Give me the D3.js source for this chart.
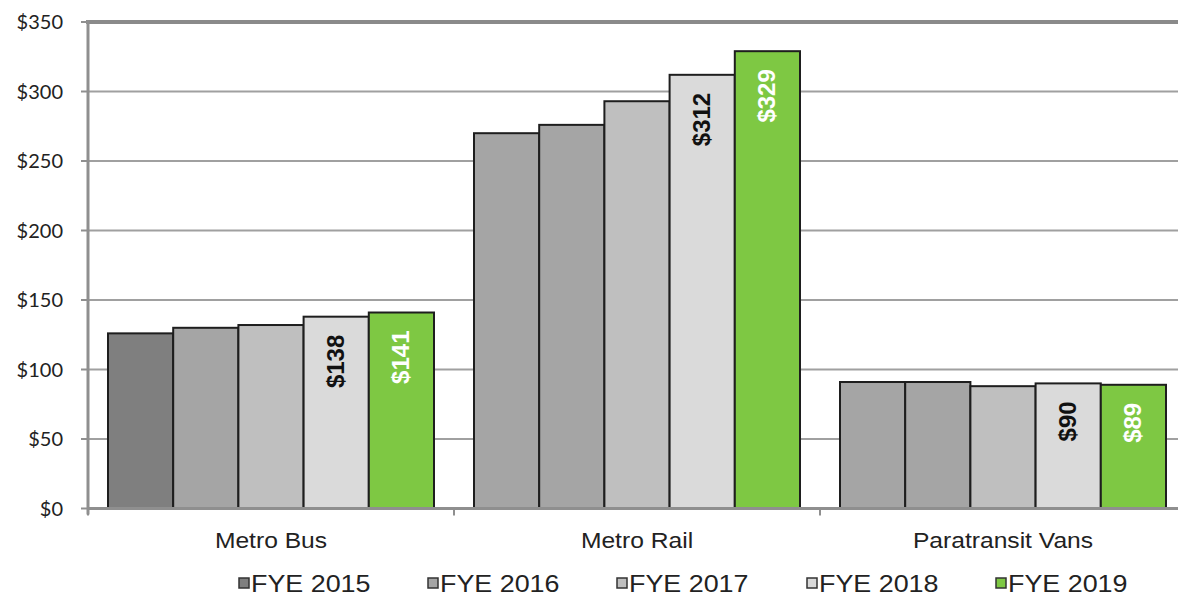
<!DOCTYPE html>
<html>
<head>
<meta charset="utf-8">
<script src="https://cdn.jsdelivr.net/npm/d3@7"></script>
<style>
  html, body { margin: 0; padding: 0; background: #fff; }
  svg { display: block; }
</style>
</head>
<body>
<svg id="chart" width="1178" height="599"></svg>
<script>
// Operating cost by mode, fiscal years 2015–2019 (millions)
const categories = ["Metro Bus", "Metro Rail", "Paratransit Vans"];
const seriesNames = ["FYE 2015", "FYE 2016", "FYE 2017", "FYE 2018", "FYE 2019"];
const fye2015 = [126, 270, 91];
const fye2016 = [130, 276, 91];
const fye2017 = [132, 293, 88];
const fye2018 = [138, 312, 90];
const fye2019 = [141, 329, 89];
const yTicks = [0, 50, 100, 150, 200, 250, 300, 350];
// Series shown with a printed value label
const labelledSeries = ["FYE 2018", "FYE 2019"];

const seriesValues = [fye2015, fye2016, fye2017, fye2018, fye2019];
const seriesFill = ["#7f7f7f", "#a5a5a5", "#bfbfbf", "#dadada", "#7ec843"];
const seriesLabelColor = { "FYE 2018": "#111", "FYE 2019": "#ffffff" };
// the 2015 bars for rail and paratransit are drawn in the lighter grey
const fillOverride = { "Metro Rail|FYE 2015": "#a5a5a5", "Paratransit Vans|FYE 2015": "#a5a5a5" };

const svg = d3.select("#chart");
const plotLeft = 88, plotTop = 22, plotBottom = 508.5, bandW = 366;

const x0 = d3.scaleBand().domain(categories)
  .range([plotLeft, plotLeft + bandW * categories.length]).paddingInner(0).paddingOuter(0);
const x1 = d3.scaleBand().domain(seriesNames).range([20, 346]).padding(0);
const y = d3.scaleLinear().domain([0, 350]).range([plotBottom, plotTop]);

const sx = 1.12; // horizontal text stretch

// gridlines
svg.append("g").selectAll("line").data(yTicks.filter(d => d > 0 && d < 350)).join("line")
  .attr("x1", plotLeft).attr("x2", 1178)
  .attr("y1", d => y(d)).attr("y2", d => y(d))
  .attr("stroke", "#a0a0a0").attr("stroke-width", 2);

// top border of plot area
svg.append("line").attr("x1", plotLeft - 2).attr("x2", 1178)
  .attr("y1", y(350)).attr("y2", y(350))
  .attr("stroke", "#8a8a8a").attr("stroke-width", 4);

// bars
const rows = [];
categories.forEach((c, ci) => {
  seriesNames.forEach((s, si) => {
    rows.push({ cat: c, series: s, value: seriesValues[si][ci], si });
  });
});

const bars = svg.append("g");
bars.selectAll("rect").data(rows).join("rect")
  .attr("x", d => x0(d.cat) + x1(d.series))
  .attr("y", d => y(d.value))
  .attr("width", x1.bandwidth())
  .attr("height", d => y(0) - y(d.value))
  .attr("fill", d => fillOverride[d.cat + "|" + d.series] || seriesFill[d.si])
  .attr("stroke", "#1e1e1e").attr("stroke-width", 2);

// value labels, rotated, placed just inside the bar top
svg.append("g").selectAll("text")
  .data(rows.filter(d => labelledSeries.includes(d.series))).join("text")
  .attr("transform", d => {
    const cx = x0(d.cat) + x1(d.series) + x1.bandwidth() / 2;
    const ty = y(d.value) + 18;
    return `translate(${cx + 8},${ty}) rotate(-90)`;
  })
  .attr("text-anchor", "end")
  .attr("font-family", "'Liberation Sans', Arial, sans-serif")
  .attr("font-size", 24)
  .attr("font-weight", "bold")
  .attr("fill", d => seriesLabelColor[d.series])
  .text(d => "$" + d.value);

// y axis line and ticks
svg.append("line").attr("x1", plotLeft).attr("x2", plotLeft)
  .attr("y1", plotTop - 2).attr("y2", plotBottom + 6)
  .attr("stroke", "#8f8f8f").attr("stroke-width", 3);
svg.append("g").selectAll("line").data(yTicks).join("line")
  .attr("x1", plotLeft - 7).attr("x2", plotLeft)
  .attr("y1", d => y(d)).attr("y2", d => y(d))
  .attr("stroke", "#8f8f8f").attr("stroke-width", 2);
svg.append("g").selectAll("text").data(yTicks).join("text")
  .attr("transform", d => `translate(63,${y(d)})`)
  .attr("text-anchor", "end").attr("dy", "0.36em")
  .attr("font-family", "Lato, 'Open Sans', sans-serif")
  .attr("font-size", 20).attr("fill", "#222")
  .text(d => "$" + d);

// x axis line and category ticks
svg.append("line").attr("x1", plotLeft).attr("x2", 1178)
  .attr("y1", plotBottom).attr("y2", plotBottom)
  .attr("stroke", "#8f8f8f").attr("stroke-width", 3);
const boundaries = categories.map(c => x0(c)).concat([x0(categories[categories.length - 1]) + bandW]);
svg.append("g").selectAll("line").data(boundaries).join("line")
  .attr("x1", d => d).attr("x2", d => d)
  .attr("y1", plotBottom).attr("y2", plotBottom + 7)
  .attr("stroke", "#8f8f8f").attr("stroke-width", 2);
svg.append("g").selectAll("text").data(categories).join("text")
  .attr("transform", c => `translate(${x0(c) + 20 + 163},548) scale(${sx},1)`)
  .attr("text-anchor", "middle")
  .attr("font-family", "'Liberation Sans', Arial, sans-serif")
  .attr("font-size", 22).attr("fill", "#222")
  .text(c => c);

// legend
const legendX = [239, 428, 617, 807, 996];
const legend = svg.append("g").selectAll("g").data(seriesNames).join("g")
  .attr("transform", (s, i) => `translate(${legendX[i]},583)`);
legend.append("rect")
  .attr("x", 0).attr("y", -5).attr("width", 10).attr("height", 10)
  .attr("fill", (s, i) => seriesFill[i]).attr("stroke", "#333").attr("stroke-width", 1.5);
legend.append("text")
  .attr("transform", `translate(12,0) scale(${sx},1)`)
  .attr("dy", "0.36em")
  .attr("font-family", "'Liberation Sans', Arial, sans-serif")
  .attr("font-size", 24).attr("fill", "#222")
  .text(s => s);
</script>
</body>
</html>
